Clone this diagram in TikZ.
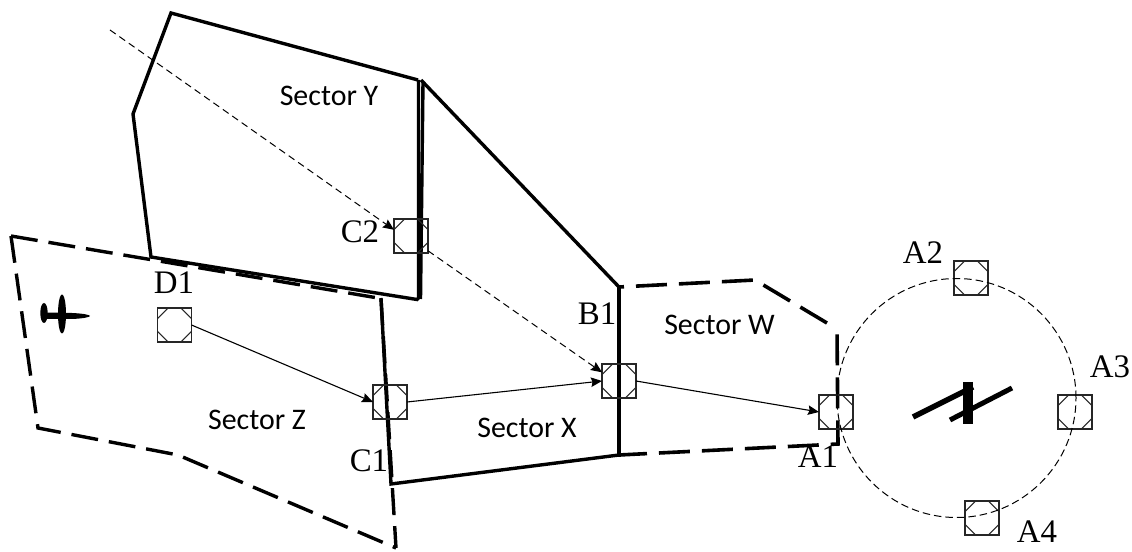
\documentclass[tikz,border=0pt]{standalone}
\usepackage{fontspec}
\setmainfont{Liberation Serif}
\newfontfamily\secfont{Carlito}
\usetikzlibrary{arrows.meta}
\tikzset{
  wp/.style={draw=black!85,line width=1.1bp,rectangle,minimum size=34bp,inner sep=0pt,outer sep=0pt,
    path picture={
      \draw[line width=1.1bp]
        ([xshift=10.6bp]path picture bounding box.north west) -- ([yshift=-10.6bp]path picture bounding box.north west)
        ([xshift=-10.6bp]path picture bounding box.north east) -- ([yshift=-10.6bp]path picture bounding box.north east)
        ([xshift=10.6bp]path picture bounding box.south west) -- ([yshift=10.6bp]path picture bounding box.south west)
        ([xshift=-10.6bp]path picture bounding box.south east) -- ([yshift=10.6bp]path picture bounding box.south east);
    }},
  solidsec/.style={line width=3.4bp,line join=miter},
  dashz/.style={line width=3.4bp,dash pattern=on 27bp off 11bp},
  dashw/.style={line width=3.6bp,dash pattern=on 31bp off 12bp},
  legarrow/.style={line width=1.1bp,-{Stealth[length=11bp,width=9.5bp,inset=1.5bp]}},
  dasharrow/.style={line width=1bp,dash pattern=on 7bp off 4.5bp,-{Stealth[length=11bp,width=9.5bp,inset=1.5bp]}},
  secl/.style={font=\secfont\fontsize{30}{32}\selectfont,inner sep=0pt},
  wpl/.style={font=\fontsize{33}{34}\selectfont,inner sep=0pt},
}
\begin{document}
\begin{tikzpicture}[x=1bp,y=-1bp]
\useasboundingbox (0,0) rectangle (1132,552);
% sectors
\draw[solidsec] (418,80) -- (171,13) -- (133,114) -- (151,257) -- (417,299.5) -- (418.5,298) -- (418.5,80);
\draw[solidsec] (423,82) -- (420.5,299);
\draw[solidsec] (421,80) -- (619,287);
\draw[line width=4.4bp] (619,285) -- (619,457);
\draw[solidsec] (619,455) -- (391,484) -- (381,298);
\draw[dashz] (11,236) -- (381,298.5);
\draw[dashz] (11,236) -- (38,428) -- (178,455) -- (396,548);
\draw[dashz] (381,298.5) -- (396,548);
\draw[dashw,dash phase=26bp] (619,287) -- (755,280) -- (837,329);
\draw[dashw,dash phase=3bp] (619,455) -- (838,444) -- (837,329);
% waypoints
\node[wp] (d1) at (174.5,325) {};
\node[wp] (c1) at (390,402) {};
\node[wp] (c2) at (411,236) {};
\node[wp] (b1) at (619,381) {};
\node[wp] (a1) at (836,412) {};
\node[wp] (a2) at (971,278) {};
\node[wp] (a3) at (1075,412) {};
\node[wp] (a4) at (982,518) {};
% holding circle
\node[draw,circle,line width=1bp,dash pattern=on 7.5bp off 4bp,minimum size=239bp,inner sep=0pt] (hold) at (956.5,398) {};
% route
\coordinate (start) at (110,30);
\draw[dasharrow] (start) -- (c2.160);
\draw[dasharrow] (c2.-41) -- (b1.153);
\draw[legarrow] (d1.east) -- (c1.west);
\draw[legarrow] (c1.east) -- (b1.west);
\draw[legarrow] (b1.east) -- (a1.west);
% aircraft
\fill (44,313) ellipse [x radius=3.7,y radius=10];
\fill (62,314) ellipse [x radius=4,y radius=19.5];
\fill (46,312.5) -- (72,313) .. controls (84,313.5) and (90,315) .. (90,316) .. controls (90,317) and (84,318.5) .. (72,319) -- (46,319) -- cycle;
% runways
\draw[line width=5.5bp] (913,417) -- (973,387);
\draw[line width=5bp] (950,420) -- (1012,388);
\draw[line width=10bp] (968,382) -- (968,423.5);
% labels
\node[secl] (sy) at (329,96) {Sector Y};
\node[secl] (sw) at (719.5,325) {Sector W};
\node[secl] (sx) at (527,428) {Sector X};
\node[secl] (sz) at (257,420) {Sector Z};
\node[wpl] (ld1) at (174,283) {D1};
\node[wpl] (lc1) at (369,461) {C1};
\node[wpl] (lc2) at (360,232) {C2};
\node[wpl] (lb1) at (597,314) {B1};
\node[wpl] (la1) at (818,457) {A1};
\node[wpl] (la2) at (923,253) {A2};
\node[wpl] (la3) at (1110,367) {A3};
\node[wpl] (la4) at (1037,532) {A4};
\end{tikzpicture}
\end{document}
